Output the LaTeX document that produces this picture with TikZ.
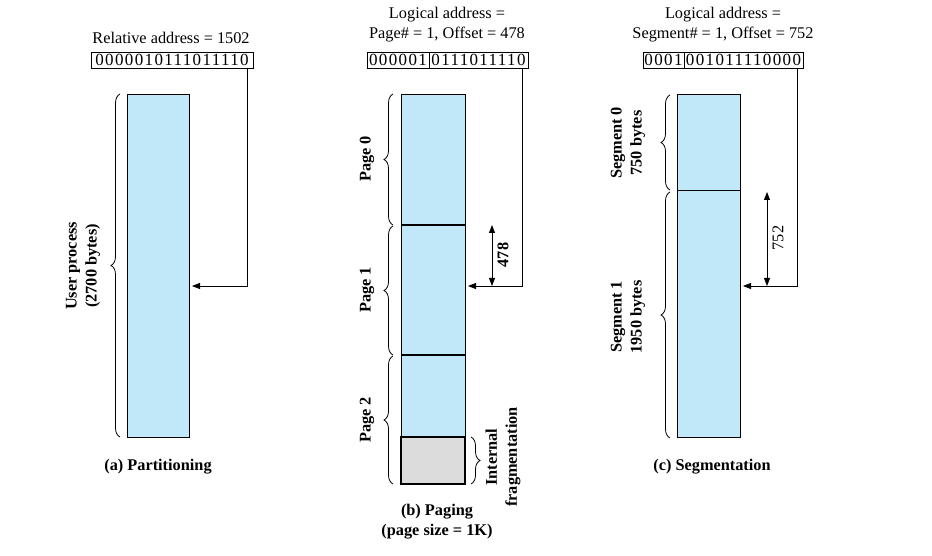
\documentclass[tikz,border=0pt]{standalone}
\usepackage{fontspec}
\setmainfont{Liberation Serif}
\usetikzlibrary{decorations.pathreplacing,arrows.meta}
\definecolor{procblue}{RGB}{192,232,248}
\definecolor{fraggray}{RGB}{220,220,220}
\newcommand{\txtsize}{\fontsize{16.3}{20}\selectfont}
\newcommand{\bitsfont}{\fontsize{17}{17}\selectfont\addfontfeatures{LetterSpace=8}}
\tikzset{
    membox/.style={draw, fill=procblue, line width=0.8pt, inner sep=0pt, outer sep=0pt, anchor=north west},
    bitbox/.style={draw, line width=0.8pt, inner sep=0pt, outer sep=0pt, minimum height=16, anchor=west, font=\bitsfont},
    title/.style={font=\txtsize, align=center, inner sep=0pt},
    caption/.style={font=\txtsize\bfseries, align=center, inner sep=0pt},
    sidelbl/.style={font=\txtsize\bfseries, align=center, rotate=90, inner sep=0pt},
    curly/.style={decorate, decoration={brace, amplitude=9pt}, line width=0.8pt},
    ptr/.style={line width=0.8pt, -{Triangle[length=8pt,width=6pt]}},
    span/.style={line width=0.8pt, {Triangle[length=8pt,width=6pt]}-{Triangle[length=8pt,width=6pt]}},
}
\begin{document}
\begin{tikzpicture}[x=1pt,y=-1pt]
    \useasboundingbox (0,0) rectangle (932,556);
    % (a) partitioning
    \node[title] (ta) at (171,38) {Relative address = 1502};
    \node[bitbox, minimum width=162] (ba) at (91,60) {0000010111011110};
    \node[membox, minimum width=62, minimum height=343] (ua) at (127,94) {};
    \coordinate (pa) at (247,286);
    \draw[ptr] (ba.south -| pa) -- (pa) -- ([xshift=3pt]ua.east |- pa);
    \draw[curly] (120,437) -- (120,94);
    \node[sidelbl] (la) at (83,266) {User process\\(2700 bytes)};
    \node[caption] (ca) at (158,467) {(a) Partitioning};
    % (b) paging
    \node[title] (tb) at (447,25) {Logical address =\\Page\# = 1, Offset = 478};
    \node[bitbox, minimum width=62] (bpg) at (367,60) {000001};
    \node[bitbox, minimum width=99] (boff) at (bpg.east) {0111011110};
    \node[membox, minimum width=64, minimum height=343] (ub) at (401,94) {};
    \node[membox, fill=fraggray, line width=1.4pt, minimum width=64, minimum height=47] (fr) at (401,437) {};
    \draw[line width=1.6pt] (401,225) -- (465,225);
    \draw[line width=1.6pt] (401,355) -- (465,355);
    \coordinate (pb) at (522,286);
    \draw[ptr] (boff.south -| pb) -- (pb) -- ([xshift=3pt]ub.east |- pb);
    \draw[span] (492,225) -- (492,286);
    \node[sidelbl] (ob) at (503,255) {478};
    \draw[curly] (393,225) -- (393,94);
    \draw[curly] (393,355) -- (393,226);
    \draw[curly] (393,484) -- (393,356);
    \node[sidelbl] (p0) at (367,159) {Page 0};
    \node[sidelbl] (p1) at (367,290) {Page 1};
    \node[sidelbl] (p2) at (367,420) {Page 2};
    \draw[curly] (471,437) -- (471,484);
    \node[sidelbl] (lf) at (503,457) {Internal\\fragmentation};
    \node[caption] (cb) at (437,522) {(b) Paging\\(page size = 1K)};
    % (c) segmentation
    \node[title] (tc) at (723,25) {Logical address =\\Segment\# = 1, Offset = 752};
    \node[bitbox, minimum width=41] (bsg) at (643,60) {0001};
    \node[bitbox, minimum width=119] (bsof) at (bsg.east) {001011110000};
    \node[membox, minimum width=63, minimum height=343] (uc) at (677,94) {};
    \draw[line width=0.8pt] (677,190) -- (740,190);
    \coordinate (pc) at (797,286);
    \draw[ptr] (bsof.south -| pc) -- (pc) -- ([xshift=3pt]uc.east |- pc);
    \draw[span] (767,192) -- (767,286);
    \node[sidelbl, font=\txtsize] (oc) at (778,238) {752};
    \draw[curly] (670,190) -- (670,95);
    \draw[curly] (670,438) -- (670,192);
    \node[sidelbl] (s0) at (628,143) {Segment 0\\750 bytes};
    \node[sidelbl] (s1) at (628,317) {Segment 1\\1950 bytes};
    \node[caption] (cc) at (712,467) {(c) Segmentation};
\end{tikzpicture}
\end{document}
